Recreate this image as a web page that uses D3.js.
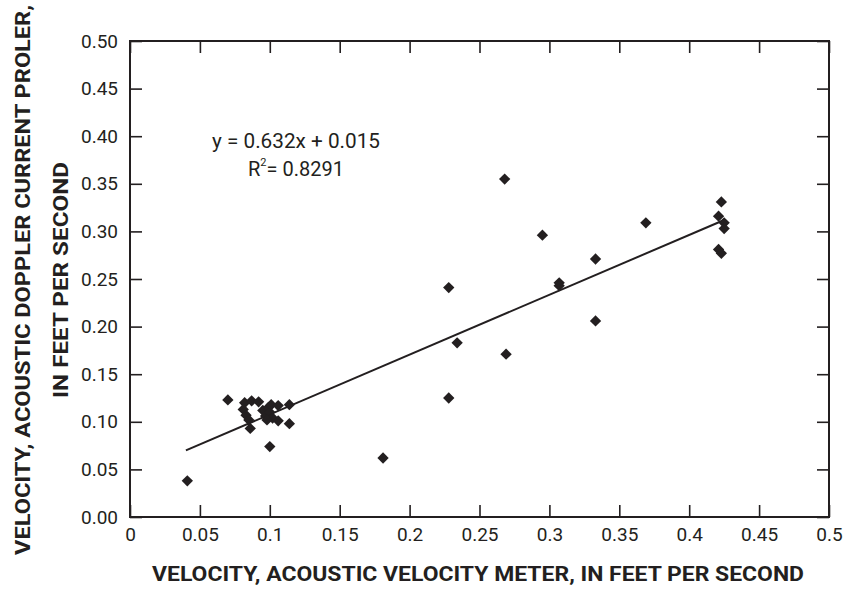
<!DOCTYPE html>
<html>
<head>
<meta charset="utf-8">
<script src="https://cdn.jsdelivr.net/npm/d3@7"></script>
<style>
  body { margin: 0; background: #fff; }
  svg text { fill: #231f20; }
  .tick text { font-family: Roboto, "Liberation Sans Narrow", sans-serif; font-size: 19px; }
  .title { font-family: Roboto, "Liberation Sans Narrow", sans-serif; font-weight: bold; font-size: 21px; }
</style>
</head>
<body>
<div id="chart"></div>
<script>
// velocity, acoustic velocity meter (x) vs ADCP (y), ft/s
const avmX = [0.041, 0.070, 0.082, 0.081, 0.083, 0.085, 0.086, 0.087, 0.092, 0.095, 0.097, 0.099, 0.100, 0.102, 0.098, 0.101,
              0.100, 0.106, 0.106, 0.114, 0.114, 0.181, 0.228, 0.228, 0.234, 0.269, 0.268, 0.295, 0.307, 0.307,
              0.333, 0.333, 0.369, 0.423, 0.421, 0.425, 0.425, 0.421, 0.423];
const adcpY = [0.038, 0.123, 0.120, 0.113, 0.107, 0.102, 0.093, 0.122, 0.121, 0.112, 0.106, 0.115, 0.110, 0.104, 0.102, 0.118,
               0.074, 0.117, 0.101, 0.118, 0.098, 0.062, 0.125, 0.241, 0.183, 0.171, 0.355, 0.296, 0.246, 0.243,
               0.271, 0.206, 0.309, 0.331, 0.316, 0.309, 0.303, 0.281, 0.277];

// trend line as drawn (end points)
const fitX = [0.040, 0.425];
const fitY = [0.070, 0.312];

const xTicks = [0, 0.05, 0.1, 0.15, 0.2, 0.25, 0.3, 0.35, 0.4, 0.45, 0.5];
const xTickLabels = ["0", "0.05", "0.1", "0.15", "0.2", "0.25", "0.3", "0.35", "0.4", "0.45", "0.5"];
const yTicks = [0, 0.05, 0.1, 0.15, 0.2, 0.25, 0.3, 0.35, 0.4, 0.45, 0.5];
const yTickLabels = ["0.00", "0.05", "0.10", "0.15", "0.20", "0.25", "0.30", "0.35", "0.40", "0.45", "0.50"];

const width = 848, height = 590;
const margin = { top: 41, right: 19, bottom: 73, left: 130 };
const innerW = width - margin.left - margin.right;
const innerH = height - margin.top - margin.bottom;
const ink = "#231f20";

const svg = d3.select("#chart").append("svg")
    .attr("width", width)
    .attr("height", height);

const g = svg.append("g").attr("transform", `translate(${margin.left},${margin.top})`);

const x = d3.scaleLinear().domain([0, 0.5]).range([0, innerW]);
const y = d3.scaleLinear().domain([0, 0.5]).range([innerH, 0]);

// axes - ticks point inward on all four sides
const axBottom = g.append("g").attr("transform", `translate(0,${innerH})`)
    .call(d3.axisBottom(x).tickValues(xTicks).tickSize(-12).tickPadding(8)
        .tickFormat((d, i) => xTickLabels[i]));
const axLeft = g.append("g")
    .call(d3.axisLeft(y).tickValues(yTicks).tickSize(-12).tickPadding(12)
        .tickFormat((d, i) => yTickLabels[i]));
const axTop = g.append("g")
    .call(d3.axisTop(x).tickValues(xTicks).tickSize(-12).tickFormat(""));
const axRight = g.append("g").attr("transform", `translate(${innerW},0)`)
    .call(d3.axisRight(y).tickValues(yTicks).tickSize(-12).tickFormat(""));

[axBottom, axLeft, axTop, axRight].forEach(a => {
    a.select(".domain").remove();
    a.selectAll(".tick line").attr("stroke", ink).attr("stroke-width", 1.6);
    a.selectAll(".tick text").attr("fill", ink);
    a.attr("font-size", null).attr("font-family", null);
});
axBottom.selectAll(".tick text").attr("dy", "0.85em");

g.append("rect")
    .attr("width", innerW)
    .attr("height", innerH)
    .attr("fill", "none")
    .attr("stroke", ink)
    .attr("stroke-width", 2);

// trend line
const line = d3.line().x(d => x(d[0])).y(d => y(d[1]));
g.append("path")
    .datum(d3.zip(fitX, fitY))
    .attr("d", line)
    .attr("fill", "none")
    .attr("stroke", ink)
    .attr("stroke-width", 2);

// points
const diamond = d3.symbol(d3.symbolSquare, 64);
g.append("g")
    .selectAll("path")
    .data(d3.zip(avmX, adcpY))
    .enter().append("path")
    .attr("d", diamond)
    .attr("transform", d => `translate(${x(d[0])},${y(d[1])}) rotate(45)`)
    .attr("fill", ink);

// equation
const eq = g.append("text")
    .attr("font-family", "Roboto, sans-serif")
    .attr("font-size", 20)
    .attr("fill", ink)
    .attr("text-anchor", "middle");
eq.append("tspan").attr("x", 166).attr("y", 107)
    .attr("textLength", 168).attr("lengthAdjust", "spacingAndGlyphs")
    .text("y = 0.632x + 0.015");
const r2 = eq.append("tspan").attr("x", 166).attr("y", 135);
r2.append("tspan").text("R");
r2.append("tspan").attr("font-size", 11).attr("dy", -10).text("2");
r2.append("tspan").attr("dy", 10).text("= 0.8291");

// axis titles
svg.append("text")
    .attr("class", "title")
    .attr("x", 478)
    .attr("y", 581)
    .attr("text-anchor", "middle")
    .attr("textLength", 652)
    .attr("lengthAdjust", "spacingAndGlyphs")
    .text("VELOCITY, ACOUSTIC VELOCITY METER, IN FEET PER SECOND");

const yt = svg.append("text")
    .attr("class", "title")
    .attr("transform", "translate(0,280) rotate(-90)")
    .attr("text-anchor", "middle");
yt.append("tspan").attr("x", 0).attr("y", 30)
    .attr("textLength", 550).attr("lengthAdjust", "spacingAndGlyphs")
    .text("VELOCITY, ACOUSTIC DOPPLER CURRENT PROLER,");
yt.append("tspan").attr("x", 0).attr("y", 68)
    .attr("textLength", 236).attr("lengthAdjust", "spacingAndGlyphs")
    .text("IN FEET PER SECOND");
</script>
</body>
</html>
